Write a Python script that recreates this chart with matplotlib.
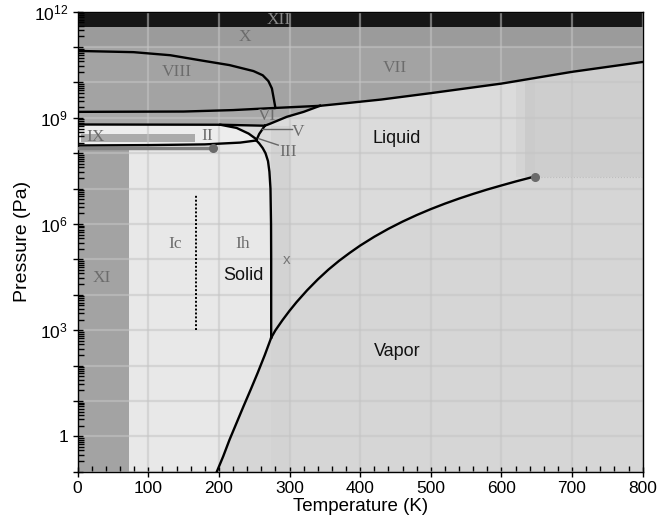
import math
import matplotlib
matplotlib.use("Agg")
import matplotlib.pyplot as plt
from matplotlib.ticker import FixedLocator, FuncFormatter, MultipleLocator, NullFormatter

plt.rcParams['font.family'] = ['Liberation Sans', 'DejaVu Sans']
plt.rcParams['mathtext.default'] = 'regular'

# --- curves (T in K, P in Pa) ---
subl_T = [197, 206, 215, 225, 235, 245, 255, 265, 274]
subl_P = [0.1, 0.27, 0.8, 2.4, 7.2, 21, 63, 200, 611]

vap_T = [274, 280, 290, 300, 310, 325, 340, 355, 370, 385, 400, 420, 440, 460,
         480, 500, 520, 540, 560, 580, 600, 620, 647]
vap_P = [611, 990, 1.92e3, 3.54e3, 6.23e3, 1.35e4, 2.72e4, 5.14e4, 9.09e4, 1.52e5,
         2.46e5, 4.37e5, 7.33e5, 1.17e6, 1.79e6, 2.64e6, 3.77e6, 5.24e6, 7.1e6,
         9.45e6, 1.23e7, 1.59e7, 2.2e7]

melt_T = [274, 274, 273.8, 273, 271.5, 269.5, 266, 262, 257, 253]
melt_P = [611, 1e5, 1e6, 1e7, 3e7, 6e7, 1e8, 1.4e8, 1.9e8, 2.3e8]

ih_ii_T = [0, 100, 180, 230, 253]
ih_ii_P = [1.66e8, 1.7e8, 1.78e8, 2.0e8, 2.3e8]

ii_v_T = [202, 225, 242, 253]
ii_v_P = [6.4e8, 5.2e8, 3.6e8, 2.5e8]

ii_vi_T = [0, 202, 265]
ii_vi_P = [6.5e8, 6.4e8, 6.0e8]

iii_v_liq_T = [253, 257, 265]
iii_v_liq_P = [2.3e8, 3.5e8, 6.0e8]

vi_melt_T = [265, 273, 296, 320, 343]
vi_melt_P = [6.0e8, 6.9e8, 1.07e9, 1.48e9, 2.19e9]

vi_vii_T = [0, 150, 220, 280, 343]
vi_vii_P = [1.48e9, 1.51e9, 1.66e9, 1.91e9, 2.19e9]

vii_melt_T = [343, 380, 430, 500, 600, 700, 800]
vii_melt_P = [2.19e9, 2.6e9, 3.3e9, 5.0e9, 9.3e9, 2.0e10, 3.8e10]

vii_viii_T = [0, 79, 131, 178, 215, 249, 262, 270, 275, 278, 280]
vii_viii_P = [7.8e10, 7.2e10, 5.9e10, 4.1e10, 3.1e10, 2.1e10, 1.6e10, 1.1e10, 6.8e9, 3.2e9, 1.91e9]

xi_line_T = [0, 192]
xi_line_P = [1.38e8, 1.38e8]

crit_T, crit_P = 647, 2.2e7
ic_ih_T = [167, 167]
ic_ih_P = [1e3, 6.5e6]

band_x = [1e11, 3.7e11]      # ice X band
band_xii = [3.7e11, 1e12]    # ice XII band
xi_T = [0, 72]
xi_P = [0.1, 1.25e8]
ix_T = [5, 166]
ix_P = [2.1e8, 3.6e8]

roman = [("XII", 285, 5.8e11), ("X", 237, 1.9e11), ("VIII", 141, 1.95e10),
         ("VII", 449, 2.5e10), ("VI", 268, 1.12e9), ("IX", 25, 2.8e8),
         ("II", 183, 3.0e8), ("V", 312, 3.9e8), ("III", 298, 1.1e8),
         ("Ic", 138, 2.8e5), ("Ih", 234, 2.8e5), ("XI", 34, 3.0e4)]
words = [("Liquid", 452, 2.6e8), ("Solid", 234, 3.5e4), ("Vapor", 452, 245)]

Tmax, Pmin, Pmax = 800, 0.1, 1e12

fig = plt.figure(figsize=(6.6, 5.28), dpi=100)
ax = fig.add_axes([0.1177, 0.1066, 0.856, 0.8712])
ax.set_yscale('log')
ax.set_xlim(0, Tmax)
ax.set_ylim(Pmin, Pmax)
ax.set_facecolor('#d6d6d6')

def poly(T, P, c, z=1):
    ax.fill(T, P, color=c, lw=0, zorder=z)

# liquid
poly(vap_T + [Tmax, Tmax, 0, 0], vap_P + [crit_P, Pmax, Pmax, 611], '#dbdbdb')
# slightly darker columns
poly([274, 300, 300, 274], [Pmin, Pmin, 6e8, 6e8], '#d3d3d3')
poly([620, 634, 634, 620], [crit_P, crit_P, Pmax, Pmax], '#d4d4d4')
poly([634, 647, 647, 634], [crit_P, crit_P, Pmax, Pmax], '#cbcbcb')
poly([647, Tmax, Tmax, 647], [crit_P, crit_P, Pmax, Pmax], '#cecece')
ax.plot([647, Tmax], [crit_P, crit_P], color='#bdbdbd', lw=0.8, ls=':', zorder=1.2)
# ice Ih / Ic
poly([0] + subl_T + melt_T + ih_ii_T[::-1], [Pmin] + subl_P + melt_P + ih_ii_P[::-1], '#e8e8e8')
# ice XI
poly([xi_T[0], xi_T[1], xi_T[1], xi_T[0]], [xi_P[0], xi_P[0], xi_P[1], xi_P[1]], '#a3a3a3')
# ice II
poly(ih_ii_T + ii_v_T[::-1] + ii_vi_T[:2][::-1], ih_ii_P + ii_v_P[::-1] + ii_vi_P[:2][::-1], '#ededed')
# ice IX
poly([ix_T[0], ix_T[1], ix_T[1], ix_T[0]], [ix_P[0], ix_P[0], ix_P[1], ix_P[1]], '#ababab')
# ice VI
poly(ii_vi_T + vi_melt_T + vi_vii_T[::-1], ii_vi_P + vi_melt_P + vi_vii_P[::-1], '#a8a8a8')
# ice VII / VIII
poly(vi_vii_T + vii_melt_T + [Tmax, 0], vi_vii_P + vii_melt_P + [Pmax, Pmax], '#a3a3a3')
# ice X and XII bands
poly([0, Tmax, Tmax, 0], [band_x[0], band_x[0], band_x[1], band_x[1]], '#9b9b9b')
poly([0, Tmax, Tmax, 0], [band_xii[0], band_xii[0], band_xii[1], band_xii[1]], '#161616')

# grid
ax.set_axisbelow('line')
ax.grid(True, which='major', color='#c4c4c4', lw=1.6, alpha=0.55)

# boundaries
for T, P in [(subl_T, subl_P), (vap_T, vap_P), (melt_T, melt_P), (ih_ii_T, ih_ii_P),
             (ii_v_T, ii_v_P), (ii_vi_T, ii_vi_P), (iii_v_liq_T, iii_v_liq_P),
             (vi_melt_T, vi_melt_P), (vi_vii_T, vi_vii_P), (vii_melt_T, vii_melt_P),
             (vii_viii_T, vii_viii_P)]:
    ax.plot(T, P, color='black', lw=1.7, zorder=3, solid_joinstyle='round')
ax.plot(xi_line_T, xi_line_P, color='#808080', lw=2.5, zorder=2.8)
ax.plot(xi_line_T[-1], xi_line_P[-1], 'o', color='#6a6a6a', ms=5.5, zorder=3.2)
ax.plot(crit_T, crit_P, 'o', color='#6a6a6a', ms=5.5, zorder=3.2)
ax.plot(ic_ih_T, ic_ih_P, color='black', lw=1.4, ls=(0, (1, 1)), zorder=3)

# leader lines for V and III
ax.plot([261, 303], [5.0e8, 5.0e8], color='#666666', lw=1, zorder=3.1)
ax.plot([256, 284], [2.6e8, 1.7e8], color='#666666', lw=1, zorder=3.1)

for s, T, P in roman:
    c = '#8a8a8a' if s == 'XII' else '#6c6c6c'
    ax.text(T, P, s, family='Liberation Serif', fontsize=12.5, color=c,
            ha='center', va='center', zorder=4)
for s, T, P in words:
    ax.text(T, P, s, fontsize=13, color='#111111', ha='center', va='center', zorder=4)
ax.text(296, 9.5e4, 'x', fontsize=11, color='#777777', ha='center', va='center', zorder=4)


def ylab(v, pos):
    k = round(math.log10(v))
    if k % 3:
        return ''
    return '1' if k == 0 else '$10^{%d}$' % k


# axes
ax.yaxis.set_major_locator(FixedLocator([10.0 ** k for k in range(-1, 13)]))
ax.yaxis.set_major_formatter(FuncFormatter(ylab))
ax.yaxis.set_minor_locator(FixedLocator([m * 10.0 ** k for k in range(-1, 12) for m in range(2, 10)]))
ax.yaxis.set_minor_formatter(NullFormatter())
ax.xaxis.set_major_locator(MultipleLocator(100))
ax.xaxis.set_minor_locator(MultipleLocator(20))
ax.tick_params(which='major', direction='inout', length=7, width=1, labelsize=12.5, colors='black')
ax.tick_params(which='minor', direction='in', length=4.5, width=1)
for sp in ax.spines.values():
    sp.set_linewidth(1)
ax.set_xlabel('Temperature (K)', fontsize=13.5, labelpad=1)
ax.set_ylabel('Pressure (Pa)', fontsize=14, labelpad=2)

fig.savefig('out.png', dpi=100)
